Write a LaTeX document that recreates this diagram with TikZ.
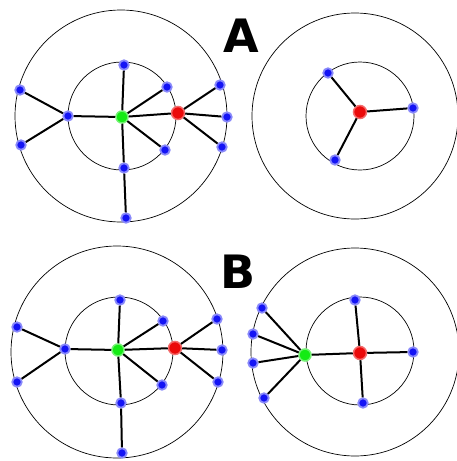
\documentclass[tikz,border=0pt]{standalone}
\usepackage{fontspec}
\newfontfamily\lblfont{DejaVu Sans}
\definecolor{dotgreen}{RGB}{20,235,20}
\definecolor{dotred}{RGB}{235,10,10}
\definecolor{dotblue}{RGB}{20,20,245}

\begin{document}
\begin{tikzpicture}[
  x=1pt, y=-1pt,
  ring/.style={draw, line width=0.7pt},
  link/.style={line width=2pt},
  bdot/.style={circle, inner sep=0pt, minimum size=9.5pt, fill=dotblue, draw=dotblue!50, line width=1.8pt},
  gdot/.style={circle, inner sep=0pt, minimum size=12pt, fill=dotgreen, draw=dotgreen!60, line width=1.5pt},
  rdot/.style={circle, inner sep=0pt, minimum size=13pt, fill=dotred, draw=dotred!60, line width=1.5pt},
  letter/.style={font=\lblfont\bfseries\fontsize{46}{46}\selectfont}
]
\useasboundingbox (0,0) rectangle (456,461);
\draw[ring] (121,116) circle[radius=106pt];
\draw[ring] (122,116) circle[radius=54pt];
\draw[ring] (355,116) circle[radius=103pt];
\draw[ring] (360,116) circle[radius=54pt];
\draw[ring] (117,352) circle[radius=106pt];
\draw[ring] (119,351) circle[radius=54pt];
\draw[ring] (355,352) circle[radius=104pt];
\draw[ring] (360,351) circle[radius=54pt];
\node[letter] (labA) at (241,36) {A};
\node[letter] (labB) at (238,272) {B};
\node[gdot] (g1) at (122,117) {};
\node[rdot] (r1) at (178,113) {};
\node[bdot] (a1) at (124,65) {};
\node[bdot] (a2) at (167,87) {};
\node[bdot] (a3) at (165,150) {};
\node[bdot] (a4) at (124,168) {};
\node[bdot] (a5) at (126,218) {};
\node[bdot] (a6) at (68,116) {};
\node[bdot] (a7) at (20,90) {};
\node[bdot] (a8) at (21,145) {};
\node[bdot] (a9) at (220,85) {};
\node[bdot] (a10) at (227,117) {};
\node[bdot] (a11) at (222,147) {};
\node[rdot] (r2) at (360,112) {};
\node[bdot] (b1) at (328,73) {};
\node[bdot] (b2) at (413,108) {};
\node[bdot] (b3) at (335,160) {};
\node[gdot] (g3) at (118,350) {};
\node[rdot] (r3) at (175,348) {};
\node[bdot] (c1) at (120,300) {};
\node[bdot] (c2) at (163,321) {};
\node[bdot] (c3) at (162,385) {};
\node[bdot] (c4) at (121,403) {};
\node[bdot] (c5) at (122,453) {};
\node[bdot] (c6) at (65,349) {};
\node[bdot] (c7) at (17,327) {};
\node[bdot] (c8) at (17,382) {};
\node[bdot] (c9) at (217,319) {};
\node[bdot] (c10) at (222,350) {};
\node[bdot] (c11) at (218,382) {};
\node[gdot] (g4) at (305,355) {};
\node[rdot] (r4) at (360,353) {};
\node[bdot] (d1) at (355,300) {};
\node[bdot] (d2) at (413,352) {};
\node[bdot] (d3) at (363,403) {};
\node[bdot] (d4) at (262,308) {};
\node[bdot] (d5) at (253,334) {};
\node[bdot] (d6) at (253,363) {};
\node[bdot] (d7) at (264,398) {};
\foreach \n in {a1,a2,a3,a4,a6,r1} \draw[link] (g1) -- (\n);
\foreach \n in {a9,a10,a11} \draw[link] (r1) -- (\n);
\foreach \n in {a7,a8} \draw[link] (a6) -- (\n);
\draw[link] (a4) -- (a5);
\foreach \n in {b1,b2,b3} \draw[link] (r2) -- (\n);
\foreach \n in {c1,c2,c3,c4,c6,r3} \draw[link] (g3) -- (\n);
\foreach \n in {c9,c10,c11} \draw[link] (r3) -- (\n);
\foreach \n in {c7,c8} \draw[link] (c6) -- (\n);
\draw[link] (c4) -- (c5);
\foreach \n in {d1,d2,d3} \draw[link] (r4) -- (\n);
\foreach \n in {d4,d5,d6,d7,r4} \draw[link] (g4) -- (\n);
\end{tikzpicture}
\end{document}
